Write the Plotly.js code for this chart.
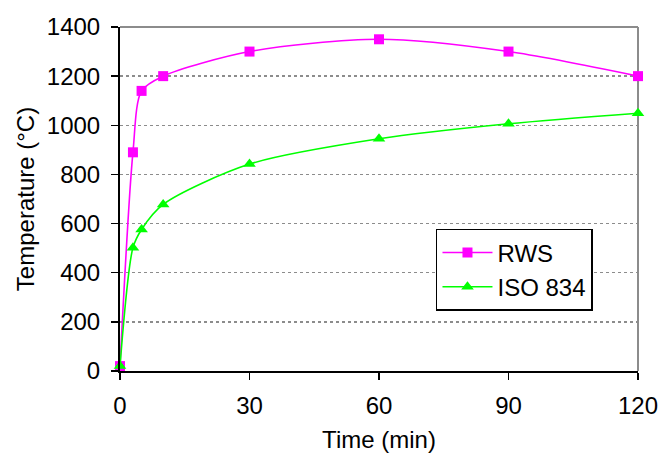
<!DOCTYPE html>
<html>
<head>
<meta charset="utf-8">
<script src="https://cdn.plot.ly/plotly-3.0.1.min.js"></script>
<style>html,body{margin:0;padding:0;background:#fff;}#chart{width:659px;height:457px;}</style>
</head>
<body>
<div id="chart"></div>
<script>
// Data
const timeMin = [0, 3, 5, 10, 30, 60, 90, 120];
const rwsTemp = [20, 890, 1140, 1200, 1300, 1350, 1300, 1200];
const isoTemp = [20, 502, 576, 678, 842, 945, 1006, 1049];
const xTicks = [0, 30, 60, 90, 120];
const yTicks = [0, 200, 400, 600, 800, 1000, 1200, 1400];

const FONT = 'Liberation Sans, Arial, sans-serif';
const FS = 24;

const traces = [
  {
    x: timeMin, y: rwsTemp, name: 'RWS', type: 'scatter', mode: 'lines+markers',
    line: {color: '#FF00FF', width: 1.6, shape: 'spline', smoothing: 0.8},
    marker: {symbol: 'square', size: 10, color: '#FF00FF'},
    cliponaxis: false
  },
  {
    x: timeMin, y: isoTemp, name: 'ISO 834', type: 'scatter', mode: 'lines+markers',
    line: {color: '#00FF00', width: 1.6, shape: 'spline', smoothing: 0.8},
    marker: {symbol: 'triangle-up', size: 11, color: '#00FF00'},
    cliponaxis: false
  }
];

const layout = {
  width: 659, height: 457,
  margin: {l: 120, r: 21, t: 27, b: 86},
  paper_bgcolor: '#fff', plot_bgcolor: '#fff',
  font: {family: FONT, size: FS, color: '#000'},
  showlegend: true,
  legend: {
    x: 0.61, y: 0.413, xanchor: 'left', yanchor: 'top',
    bgcolor: '#fff', bordercolor: '#000', borderwidth: 1.5,
    font: {family: FONT, size: FS, color: '#000'},
    itemwidth: 50,
    tracegroupgap: 0
  },
  xaxis: {
    range: [0, 120], tickmode: 'array', tickvals: xTicks, ticktext: xTicks.map(String),
    showgrid: false, zeroline: false,
    showline: true, linecolor: '#000', linewidth: 2,
    ticks: 'outside', ticklen: 7, tickwidth: 1.5, tickcolor: '#000',
    ticklabelstandoff: 5,
    tickfont: {family: FONT, size: FS, color: '#000'},
    title: {text: 'Time (min)', font: {family: FONT, size: FS, color: '#000'}, standoff: 13}
  },
  yaxis: {
    range: [0, 1400], tickmode: 'array', tickvals: yTicks, ticktext: yTicks.map(String),
    showgrid: true, gridcolor: '#8c8c8c', gridwidth: 1.5, griddash: 'dot',
    zeroline: false,
    showline: true, linecolor: '#000', linewidth: 2,
    ticks: 'outside', ticklen: 7, tickwidth: 1.5, tickcolor: '#000',
    ticklabelstandoff: 6,
    tickfont: {family: FONT, size: FS, color: '#000'},
    title: {text: 'Temperature (°C)', font: {family: FONT, size: FS, color: '#000'}, standoff: 5}
  },
  shapes: [
    {type: 'line', xref: 'paper', yref: 'paper', x0: 1, x1: 1, y0: 0, y1: 1,
     line: {color: '#8c8c8c', width: 2}, layer: 'below'},
    {type: 'line', xref: 'paper', yref: 'paper', x0: 0, x1: 1, y0: 1, y1: 1,
     line: {color: '#8c8c8c', width: 2}, layer: 'below'}
  ]
};

Plotly.newPlot('chart', traces, layout, {displayModeBar: false, staticPlot: true});
</script>
</body>
</html>
